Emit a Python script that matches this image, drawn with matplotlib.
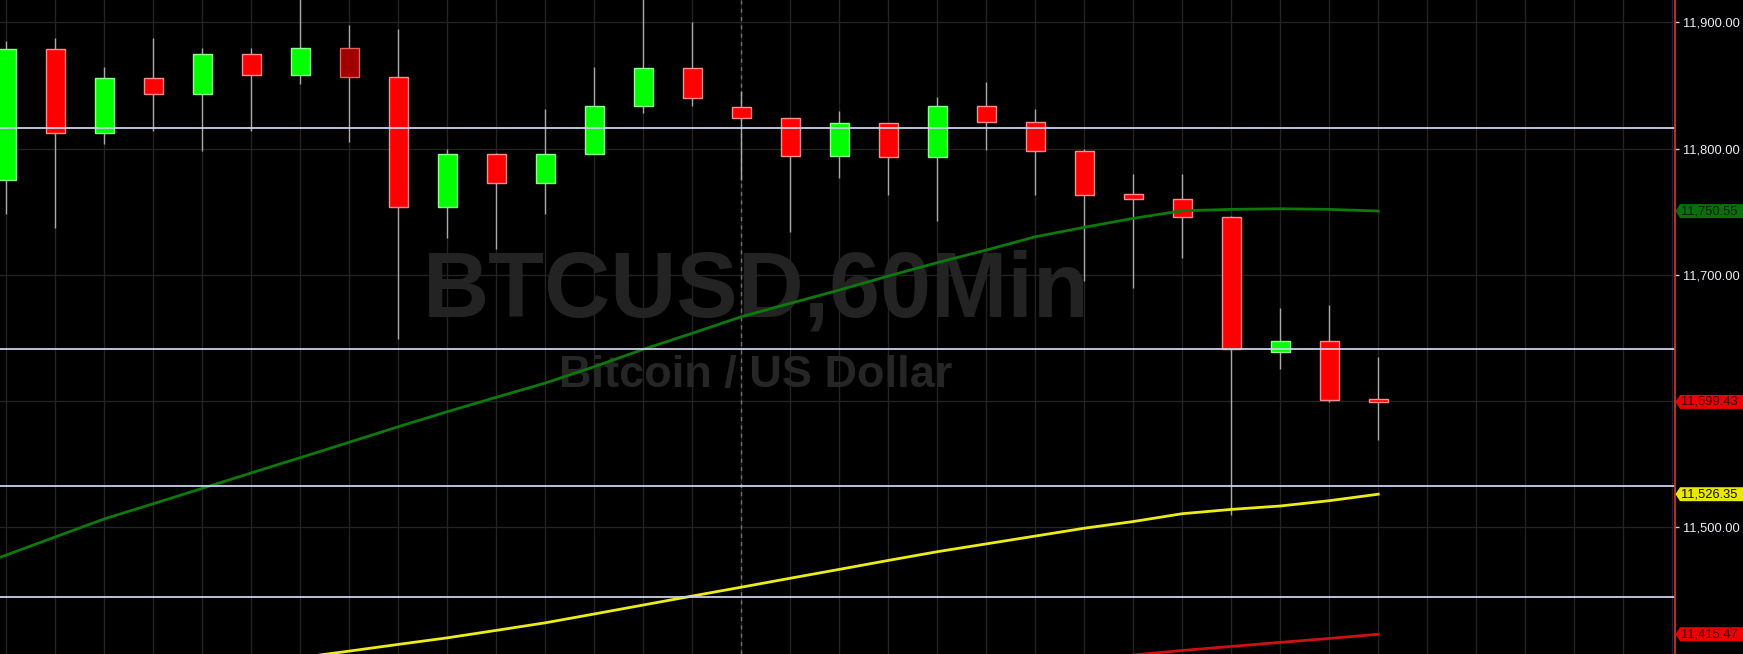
"""
BTCUSD 60 minute candles with moving averages, dark chart style
"""
import numpy as np
import matplotlib.pyplot as plt
from matplotlib.patches import Polygon

# hourly candles, oldest first
opens = [11775, 11879, 11812, 11856, 11843, 11875, 11858.5, 11879.5, 11857, 11753.5,
         11796, 11773, 11796, 11834, 11863.5, 11833, 11824, 11794, 11820, 11793,
         11834, 11821, 11798, 11764, 11760, 11745.5, 11638.7, 11648, 11601.5]
highs = [11885, 11888, 11865, 11888, 11880, 11880, 11920, 11898, 11895, 11800,
         11796.5, 11831, 11865, 11920, 11900, 11846, 11824, 11830, 11820, 11841,
         11853, 11831, 11800, 11780, 11780, 11747, 11674, 11676, 11635]
lows = [11748, 11737, 11804, 11814, 11798, 11814, 11851, 11805, 11649.5, 11729.5,
        11720.5, 11748.5, 11796, 11828, 11834, 11775, 11734, 11777, 11763, 11743,
        11799, 11763, 11695, 11690, 11713, 11510, 11625.5, 11599.6, 11569.5]
closes = [11879, 11812, 11856, 11843, 11875, 11858.5, 11879.5, 11857, 11753.5, 11795.5,
          11773, 11796, 11834, 11863.5, 11840, 11824, 11794, 11820, 11793, 11834,
          11821, 11798, 11763, 11760, 11745.5, 11641, 11648, 11601.3, 11599.43]

# moving averages, first value belongs to the bar just left of the screen
nan = np.nan
ma_green = [11464.0, 11478.2, 11492.5, 11506.8, 11518.8, 11531.0, 11543.2, 11555.3,
            11567.5, 11579.8, 11591.7, 11603.1, 11614.4, 11627.3, 11641.1, 11653.8,
            11666.9, 11677.5, 11688.0, 11699.1, 11709.7, 11719.7, 11730.2, 11737.7,
            11744.8, 11750.8, 11751.9, 11752.4, 11751.9, 11750.55]
ma_yellow = [nan] * 7 + [11397, 11402.1, 11407.4, 11412.6, 11418.5, 11424.5, 11431.5,
                         11438.6, 11445.7, 11452.7, 11459.8, 11466.8, 11473.9, 11480.8,
                         11487.0, 11493.2, 11499.4, 11504.7, 11510.9, 11514.3, 11517.0,
                         11521.2, 11526.35]
ma_red = [nan] * 24 + [11399.0, 11402.6, 11405.8, 11409.0, 11412.1, 11415.47]

levels = [11816, 11641, 11532.5, 11445]      # drawn support / resistance
session_bar = 15                             # dashed session divider
marked_bar = 7                               # the dark red bar

yticks = [11500, 11600, 11700, 11800, 11900]
ytick_labels = ["11,500.00", "", "11,700.00", "11,800.00", "11,900.00"]

title = "BTCUSD,60Min"
subtitle = "Bitcoin / US Dollar"

W, H = 1743, 654
AX_W = 1675

fig = plt.figure(figsize=(W / 100, H / 100), dpi=100, facecolor="black")
ax = fig.add_axes([0, 0, AX_W / W, 1])
ax.set_facecolor("black")

x = np.arange(len(opens))
ma_x = np.arange(-1, len(opens))
o = np.array(opens)
c = np.array(closes)

# watermark
ax.text(0.4513, 0.516, title, transform=ax.transAxes, ha="center", va="baseline",
        fontsize=66, fontweight="bold", family="Liberation Sans", color="#232323", zorder=1)
ax.text(0.4513, 0.4087, subtitle, transform=ax.transAxes, ha="center", va="baseline",
        fontsize=32.5, fontweight="bold", family="Liberation Sans", color="#262626", zorder=1)

# candles
ax.vlines(x, lows, highs, color="#a8a8a8", lw=1, zorder=3)
up = c >= o
face = np.where(up, "#00ff00", "#ff0000").astype(object)
edge = np.where(up, "#8cff8c", "#ff8c8c").astype(object)
face[marked_bar] = "#a00000"
edge[marked_bar] = "#e06060"
bottom = np.minimum(o, c)
height = np.maximum(np.abs(c - o), 0.8)
ax.bar(x, height, bottom=bottom, width=0.4, color=list(face), edgecolor=list(edge),
       linewidth=1, zorder=4)

ax.axvline(session_bar, color="#707070", lw=1, ls=(0, (3, 3)), zorder=2)

# moving averages
ax.plot(ma_x, ma_green, color="#0b7a0b", lw=2, zorder=5)
ax.plot(ma_x, ma_yellow, color="#ecec1a", lw=2, zorder=5)
ax.plot(ma_x, ma_red, color="#d01010", lw=2, zorder=5)

for lv in levels:
    ax.axhline(lv, color="#c8d2ea", lw=1.3, zorder=6)

ax.set_xlim(-6.3 / 49, (AX_W - 6.3) / 49)
ax.set_ylim(11399.8, 11917.7)

ax.set_xticks(np.arange(0, 35))
ax.set_yticks(yticks)
ax.set_yticklabels(ytick_labels)
ax.yaxis.tick_right()
ax.tick_params(axis="x", length=0, labelbottom=False)
ax.tick_params(axis="y", colors="#d0d0d0", labelcolor="#ececf4", length=3, width=1,
               pad=3, labelsize=9.3)
for lab in ax.get_yticklabels():
    lab.set_family("Liberation Sans")
ax.grid(True, color="#232323", lw=1, zorder=0)
ax.set_axisbelow(True)
for side in ["top", "left", "bottom"]:
    ax.spines[side].set_visible(False)
ax.spines["right"].set_color("#c83232")
ax.spines["right"].set_linewidth(1.3)
ax.spines["right"].set_zorder(8)

# price tags on the right scale
tag = fig.add_axes([AX_W / W, 0, (W - AX_W) / W, 1])
tag.set_xlim(0, W - AX_W)
tag.set_ylim(ax.get_ylim())
tag.axis("off")
px = (ax.get_ylim()[1] - ax.get_ylim()[0]) / H
tags = [(ma_green[-1], "#087008", "#0a1a0a"),
        (closes[-1], "#ee0000", "#3a0000"),
        (ma_yellow[-1], "#e8e800", "#101000"),
        (ma_red[-1], "#ee0000", "#3a0000")]
for val, bg, fg in tags:
    h = 7 * px
    pts = [(0.5, val), (5, val + h), (W - AX_W, val + h), (W - AX_W, val - h), (5, val - h)]
    tag.add_patch(Polygon(pts, closed=True, facecolor=bg, edgecolor="none", zorder=2))
    tag.text(6, val, f"{val:,.2f}", ha="left", va="center", fontsize=9.3,
             family="Liberation Sans", color=fg, zorder=3)

fig.savefig("out.png", dpi=100, facecolor="black")
